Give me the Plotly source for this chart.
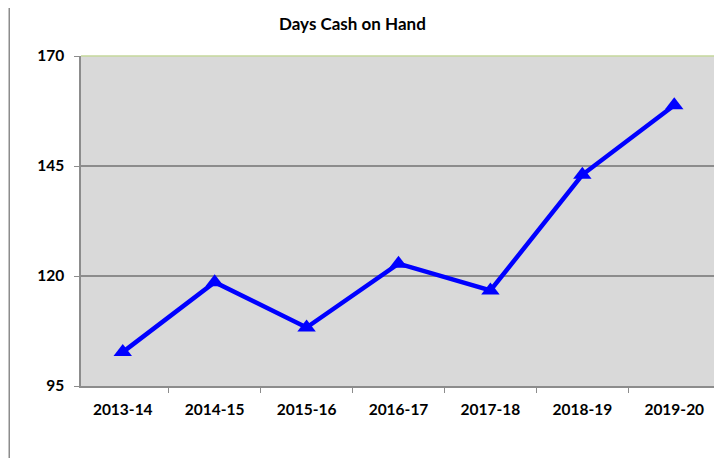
import plotly.graph_objects as go

years = ["2013-14", "2014-15", "2015-16", "2016-17", "2017-18", "2018-19", "2019-20"]
days_cash = [102.7, 118.6, 108.3, 122.8, 116.7, 143.0, 158.8]
y_ticks = [95, 120, 145, 170]

FONT = "Lato, sans-serif"

fig = go.Figure()
fig.add_trace(go.Scatter(
    x=years, y=days_cash,
    mode="lines+markers",
    line=dict(color="#0000ff", width=4.5),
    marker=dict(symbol="triangle-up", size=16, color="#0000ff"),
    showlegend=False,
))

# page body adds an 8px offset, margins are set to compensate
fig.update_layout(
    width=722, height=458,
    margin=dict(l=73, r=14, t=48, b=80),
    paper_bgcolor="white",
    plot_bgcolor="#d9d9d9",
    font=dict(family=FONT, size=15.5, color="black", weight="bold"),
    title=dict(text="Days Cash on Hand", x=0.477, xanchor="center",
               y=0.965, yanchor="middle",
               font=dict(family=FONT, size=17, weight="bold")),
)

fig.update_xaxes(
    type="category", tickson="boundaries", automargin=False,
    ticks="outside", ticklen=5, tickcolor="#8c8c8c",
    showline=True, linecolor="#8c8c8c", linewidth=1.5,
    showgrid=False, tickfont=dict(family=FONT, size=15.5, weight="bold"),
    ticklabelstandoff=9,
)
fig.update_yaxes(
    range=[95, 170], tickvals=y_ticks, automargin=False,
    ticks="outside", ticklen=5, tickcolor="#8c8c8c",
    showline=True, linecolor="#8c8c8c", linewidth=1.5,
    showgrid=True, gridcolor="#8c8c8c", gridwidth=1.5,
    zeroline=False, tickfont=dict(family=FONT, size=15.5, weight="bold"),
    ticklabelstandoff=7,
)

# light green frame on top/right of plot area, and chart border at left
fig.add_shape(type="line", xref="paper", yref="paper", x0=0, x1=1, y0=1, y1=1,
              line=dict(color="#c4d79b", width=1.5))
fig.add_shape(type="line", xref="paper", yref="paper", x0=1, x1=1, y0=0, y1=1,
              line=dict(color="#c4d79b", width=1.5))
fig.add_shape(type="line", xref="paper", yref="paper", x0=-0.113, x1=-0.113,
              y0=-0.3, y1=1.2, line=dict(color="#8c8c8c", width=1.5))

fig.write_html("out.html")
